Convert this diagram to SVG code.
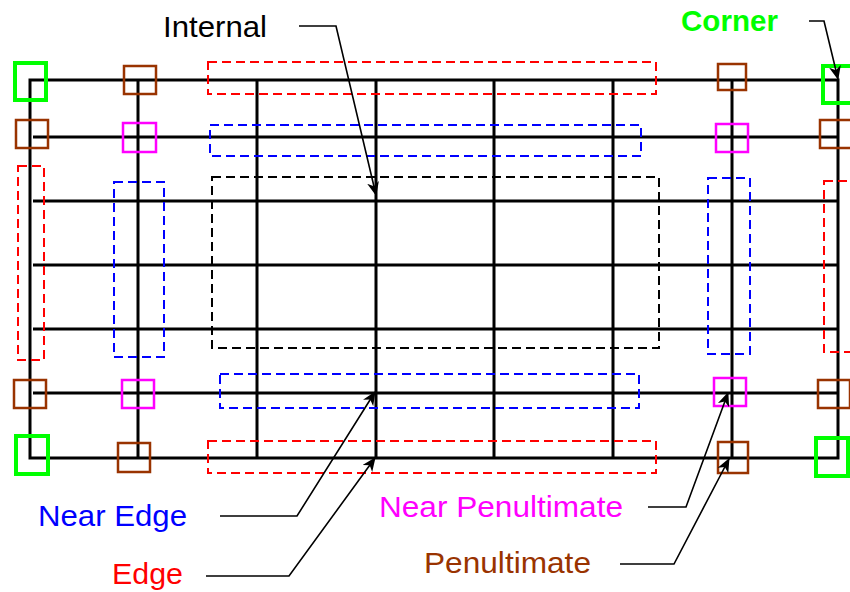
<svg xmlns="http://www.w3.org/2000/svg" width="850" height="592" viewBox="0 0 850 592">
<style>
.grid{stroke:#000;stroke-width:3;fill:none}
.dash{fill:none;stroke-width:2;stroke-dasharray:9,5}
.sq{fill:none;stroke-width:2.5}
.corner{stroke:#00ff00;stroke-width:4}
.pen{stroke:#993300}
.npen{stroke:#ff00ff}
.lbl{font-family:"Liberation Sans",Arial,sans-serif;font-size:30px}
.arr{fill:none;stroke:#000;stroke-width:1.6;marker-end:url(#ah)}
</style>
<defs>
<marker id="ah" markerWidth="14" markerHeight="12" refX="13" refY="6" orient="auto" markerUnits="userSpaceOnUse">
<path d="M0,0 L14,6 L0,12 L4,6 Z" fill="#000"/>
</marker>
</defs>
<rect width="850" height="592" fill="#fff"/>
<g id="grid">
<path class="grid" d="M30,458 V80 H838 V458 Z"/>
<path class="grid" d="M33,137 H838 M33,201 H838 M33,265 H838 M33,329 H838 M33,393 H838"/>
<path class="grid" d="M138,80 V458 M257,80 V458 M376,80 V458 M494,80 V458 M613,80 V458 M732,80 V458"/>
</g>
<g id="regions">
<rect id="edge-top" class="dash" stroke="#ff0000" x="208" y="62" width="448" height="32"/>
<rect id="edge-bottom" class="dash" stroke="#ff0000" x="208" y="441" width="448" height="32"/>
<rect id="edge-left" class="dash" stroke="#ff0000" x="18" y="166" width="26" height="194"/>
<rect id="edge-right" class="dash" stroke="#ff0000" x="824" y="181" width="34" height="171"/>
<rect id="nearedge-top" class="dash" stroke="#0000ff" x="210" y="125" width="431" height="31"/>
<rect id="nearedge-bottom" class="dash" stroke="#0000ff" x="220" y="374" width="419" height="34"/>
<rect id="nearedge-left" class="dash" stroke="#0000ff" x="114" y="182" width="50" height="175"/>
<rect id="nearedge-right" class="dash" stroke="#0000ff" x="708" y="178" width="42" height="176"/>
<rect id="internal" class="dash" stroke="#000" x="212" y="177" width="447" height="171"/>
</g>
<g id="corners">
<rect class="sq corner" x="15" y="63" width="31" height="37"/>
<rect class="sq corner" x="823" y="66" width="32" height="37"/>
<rect class="sq corner" x="16" y="436" width="32" height="38"/>
<rect class="sq corner" x="816" y="438" width="32" height="38"/>
</g>
<g id="penultimate">
<rect class="sq pen" x="124" y="66" width="32" height="28"/>
<rect class="sq pen" x="16" y="120" width="32" height="28"/>
<rect class="sq pen" x="718" y="64" width="28" height="26"/>
<rect class="sq pen" x="820" y="120" width="32" height="28"/>
<rect class="sq pen" x="14" y="380" width="32" height="28"/>
<rect class="sq pen" x="118" y="443" width="32" height="29"/>
<rect class="sq pen" x="818" y="380" width="32" height="28"/>
<rect class="sq pen" x="718" y="442" width="30" height="31"/>
</g>
<g id="near-penultimate">
<rect class="sq npen" x="123" y="123" width="33" height="29"/>
<rect class="sq npen" x="716" y="124" width="32" height="28"/>
<rect class="sq npen" x="122" y="380" width="32" height="28"/>
<rect class="sq npen" x="714" y="378" width="32" height="28"/>
</g>
<g id="labels">
<text class="lbl" x="163" y="37" fill="#000" textLength="104" lengthAdjust="spacingAndGlyphs">Internal</text>
<text class="lbl" x="681" y="31" fill="#00ff00" font-weight="bold" textLength="97" lengthAdjust="spacingAndGlyphs">Corner</text>
<text class="lbl" x="38" y="526" fill="#0000ff" textLength="149" lengthAdjust="spacingAndGlyphs">Near Edge</text>
<text class="lbl" x="112" y="584" fill="#ff0000" textLength="71" lengthAdjust="spacingAndGlyphs">Edge</text>
<text class="lbl" x="379" y="517" fill="#ff00ff" textLength="244" lengthAdjust="spacingAndGlyphs">Near Penultimate</text>
<text class="lbl" x="424" y="573" fill="#993300" textLength="167" lengthAdjust="spacingAndGlyphs">Penultimate</text>
</g>
<g id="connectors">
<path class="arr" d="M299,26 H336 L376,195"/>
<path class="arr" d="M809,21 H824 L838,79"/>
<path class="arr" d="M220,516 H297 L375,392"/>
<path class="arr" d="M206,576 H289 L375,458"/>
<path class="arr" d="M648,507 H686 L728,393"/>
<path class="arr" d="M620,564 H674 L729,459"/>
</g>
</svg>
